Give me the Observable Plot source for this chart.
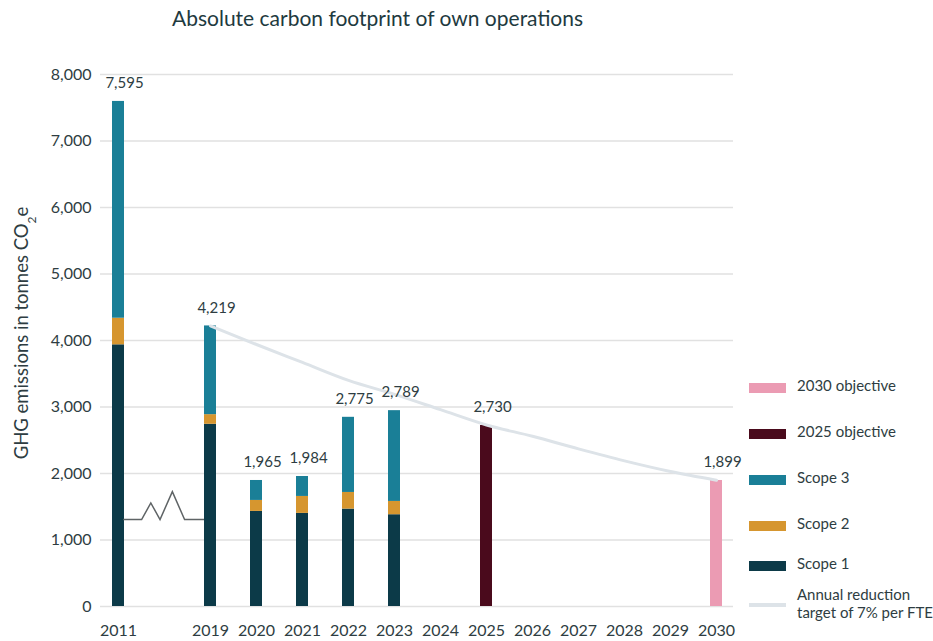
<!DOCTYPE html>
<html><head><meta charset="utf-8">
<script src="https://cdn.jsdelivr.net/npm/d3@7"></script>
<script src="https://cdn.jsdelivr.net/npm/@observablehq/plot@0.6"></script>
<style>
body{margin:0;background:#fff;font-family:Lato,sans-serif;}
#wrap{position:relative;width:933px;height:641px;}
#title{height:40px;position:relative;}
#title span{position:absolute;left:172px;top:5px;font-size:21px;color:#1e3a40;white-space:nowrap;}
.leg{position:absolute;left:749px;font-size:15px;color:#2e3d42;line-height:18px;}
.leg .sw{position:absolute;left:0;width:37px;}
.leg .tx{position:absolute;left:48px;white-space:nowrap;}
</style></head><body>
<div id="wrap"><div id="title"><span>Absolute carbon footprint of own operations</span></div><div id="chart"></div></div>
<script>
const categories = ["2011","gap","2019","2020","2021","2022","2023","2024","2025","2026","2027","2028","2029","2030"];
const barYears = ["2011","2019","2020","2021","2022","2023"];
const scope1 = [3935, 2740, 1430, 1400, 1465, 1380];
const scope2 = [400, 145, 165, 255, 250, 200];
const scope3 = [3260, 1334, 300, 300, 1130, 1365];
const objectiveYears = ["2025","2030"];
const objectiveNames = ["2025 objective","2030 objective"];
const objectiveValues = [2722, 1895];
const labelYears = ["2011","2019","2020","2021","2022","2023","2025","2030"];
const labelTexts = ["7,595","4,219","1,965","1,984","2,775","2,789","2,730","1,899"];
const targetYears = ["2019","2020","2021","2022","2023","2024","2025","2026","2027","2028","2029","2030"];
const targetValues = [4219, 3940, 3670, 3400, 3190, 2960, 2730, 2560, 2370, 2190, 2030, 1899];
const yTicks = [0,1000,2000,3000,4000,5000,6000,7000,8000];
const seriesNames = ["2030 objective","2025 objective","Scope 3","Scope 2","Scope 1"];
const seriesColors = ["#eb9bb3","#4a0a1c","#1a7f97","#d6962f","#0c3a48"];
const targetName = "Annual reduction\ntarget of 7% per FTE";
const targetColor = "#dde3e8";
// axis-break symbol between 2011 and 2019 (fraction of the way between the two bands, value)
const breakFrac = [0.122, 0.322, 0.422, 0.522, 0.656, 0.789, 1.0];
const breakValues = [1300, 1300, 1550, 1300, 1720, 1300, 1300];

const rows = [];
barYears.forEach((yr, i) => {
  rows.push({year: yr, series: "Scope 1", value: scope1[i]});
  rows.push({year: yr, series: "Scope 2", value: scope2[i]});
  rows.push({year: yr, series: "Scope 3", value: scope3[i]});
});
objectiveYears.forEach((yr, i) => rows.push({year: yr, series: objectiveNames[i], value: objectiveValues[i]}));
const totals = new Map(d3.rollups(rows, v => d3.sum(v, d => d.value), d => d.year));
const labels = labelYears.map((yr, i) => ({year: yr, text: labelTexts[i], top: totals.get(yr)}));
const target = targetYears.map((yr, i) => ({year: yr, value: targetValues[i]}));

const textColor = "#2e3d42";

const plot = Plot.plot({
  width: 933, height: 601,
  marginTop: 34, marginBottom: 35, marginLeft: 100, marginRight: 200,
  style: {fontFamily: "Lato, sans-serif", fontSize: "16px", color: textColor, background: "transparent"},
  x: {type: "band", domain: categories, paddingInner: 0.74, paddingOuter: 0.25, align: 0.5},
  y: {domain: [0, 8000]},
  color: {domain: seriesNames, range: seriesColors},
  marks: [
    Plot.ruleY(yTicks, {stroke: "#e1e1e1", strokeWidth: 1.3}),
    Plot.axisY({ticks: yTicks, tickSize: 0, tickPadding: 9, tickFormat: d3.format(","), label: null, fontSize: 16}),
    Plot.axisX({tickSize: 0, tickPadding: 18, tickFormat: d => d === "gap" ? "" : d, label: null, fontSize: 16}),
    Plot.barY(rows, {x: "year", y: "value", fill: "series"}),
    Plot.line(target, {x: "year", y: "value", stroke: targetColor, strokeWidth: 3, curve: "monotone-x"}),
    (index, scales) => {
      const a = scales.x("2011"), b = scales.x("2019");
      const pts = breakFrac.map((f, i) => [a + f * (b - a), scales.y(breakValues[i])]);
      const p = document.createElementNS("http://www.w3.org/2000/svg", "path");
      p.setAttribute("d", d3.line()(pts));
      p.setAttribute("fill", "none");
      p.setAttribute("stroke", "#5f6466");
      p.setAttribute("stroke-width", "1.5");
      return p;
    },
    Plot.text(labels, {x: "year", y: "top", text: "text", dy: -18, dx: 6, fontSize: 15, fill: textColor})
  ]
});

const svg = d3.select(plot);
const t = svg.append("text")
  .attr("transform", "translate(22,293) rotate(-90)")
  .attr("text-anchor", "middle")
  .attr("dy", "0.35em")
  .attr("font-size", 18.5)
  .attr("fill", textColor);
t.append("tspan").text("GHG emissions in tonnes CO");
t.append("tspan").attr("baseline-shift", "sub").attr("font-size", 12).text("2");
t.append("tspan").text("e");

document.getElementById("chart").appendChild(plot);

// legend
const wrap = document.getElementById("wrap");
const legendCenters = [388, 434, 480, 526, 566];
seriesNames.forEach((name, i) => {
  const d = document.createElement("div");
  d.className = "leg";
  d.style.top = (legendCenters[i]) + "px";
  d.innerHTML = `<div class="sw" style="top:-5px;height:10px;background:${seriesColors[i]}"></div><div class="tx" style="top:-12px">${name}</div>`;
  wrap.appendChild(d);
});
const dl = document.createElement("div");
dl.className = "leg";
dl.style.top = "605px";
dl.innerHTML = `<div class="sw" style="top:-2px;height:4px;background:${targetColor}"></div><div class="tx" style="top:-20px">${targetName.replace("\n","<br>")}</div>`;
wrap.appendChild(dl);
</script>
</body></html>
